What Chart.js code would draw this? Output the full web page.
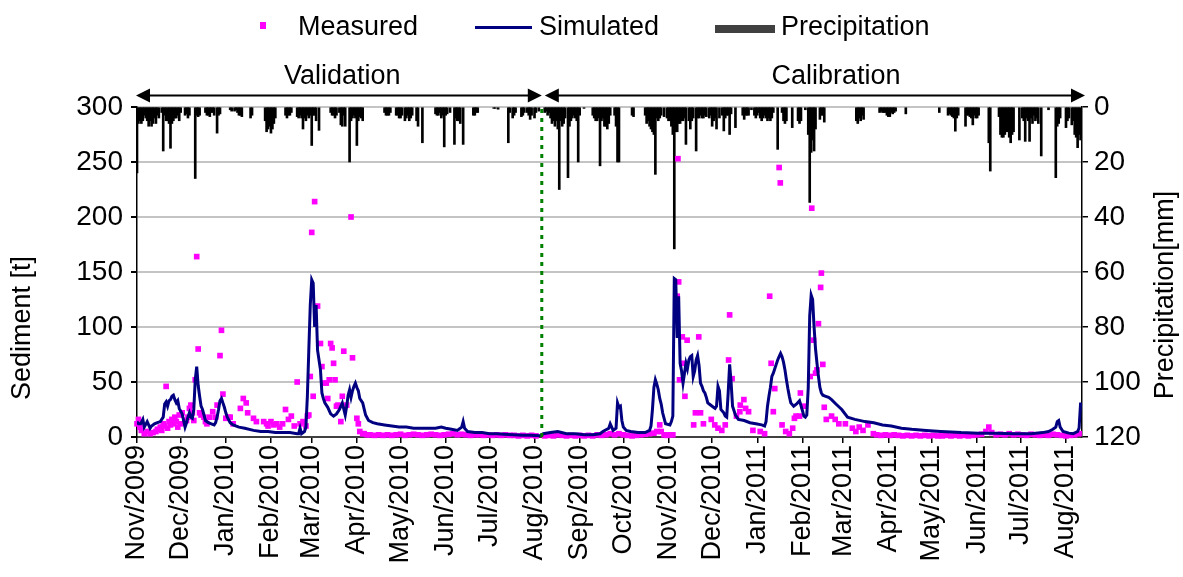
<!DOCTYPE html>
<html>
<head>
<meta charset="utf-8">
<script src="https://cdn.jsdelivr.net/npm/chart.js@4.4.0/dist/chart.umd.min.js"></script>
<style>
  html, body { margin: 0; padding: 0; background: #fff; overflow: hidden; }
  #wrap { width: 1183px; height: 577px; }
</style>
</head>
<body>
<div id="wrap"><canvas id="sediment-chart" width="1183" height="577"></canvas></div>
<script>
// days are counted from 1 Nov 2009
const tickDays = [0, 30, 61, 92, 120, 151, 181, 212, 242, 273, 304, 334, 365, 395, 426, 457, 485, 516, 546, 577, 607, 638];
const tickLabels = ['Nov/2009', 'Dec/2009', 'Jan/2010', 'Feb/2010', 'Mar/2010', 'Apr/2010', 'May/2010', 'Jun/2010',
  'Jul/2010', 'Aug/2010', 'Sep/2010', 'Oct/2010', 'Nov/2010', 'Dec/2010', 'Jan/2011', 'Feb/2011', 'Mar/2011',
  'Apr/2011', 'May/2011', 'Jun/2011', 'Jul/2011', 'Aug/2011'];
const lastDay = 649;
const splitDay = 278;
const periodNames = ['Validation', 'Calibration'];
const periodLabelDays = [141, 480];

const simulated = [
  [0, 14], [1, 12], [2.5, 12], [4, 16], [5, 9], [7, 14], [9, 8], [10, 10], [12, 12], [14, 13], [16, 14], [18, 18],
  [19, 30], [20, 32], [21, 28], [22, 33], [23, 34], [24, 37], [25, 38], [26, 34], [27, 31], [28, 33], [29, 26],
  [31, 21], [32, 15], [33, 9], [34, 13], [35, 18], [36, 22], [37, 18], [38, 17], [39, 25], [40, 52], [41, 64],
  [42, 47], [43, 37], [44, 28], [45, 25], [46, 20], [47, 15], [49, 13], [51, 12], [53, 11], [54, 13], [55, 18],
  [56, 25], [57, 33], [58, 35], [59, 31], [60, 27], [61, 22], [62, 18], [64, 13], [66, 11], [70, 9], [74, 8],
  [80, 6], [85, 5], [90, 5], [95, 4], [100, 4], [105, 4], [110, 3], [111, 3], [112, 8], [113, 3], [115, 5],
  [116, 9], [117, 37], [118, 79], [119, 120], [120, 143], [121, 140], [122, 100], [123, 120], [124, 79],
  [125, 70], [126, 61], [127, 40], [128, 35], [129, 31], [131, 27], [133, 21], [135, 19], [137, 21], [139, 25],
  [141, 31], [143, 20], [144, 28], [145, 38], [146, 43], [147, 36], [148, 42], [149, 46], [150, 49], [151, 45],
  [152, 42], [153, 35], [155, 31], [157, 20], [159, 15], [162, 13], [165, 12], [170, 11], [175, 10], [180, 9],
  [185, 9], [190, 8], [195, 8], [200, 8], [205, 8], [209, 9], [212, 8], [216, 7], [220, 6], [223, 9], [224, 14],
  [225, 8], [227, 5], [232, 4], [237, 4], [242, 3], [247, 3], [252, 2.5], [258, 2], [265, 1.5], [270, 1.5],
  [277, 1.2], [279, 3], [284, 4], [289, 5], [295, 3], [301, 3], [307, 2], [313, 2], [318, 3], [320, 5], [324, 8],
  [325, 12], [327, 6], [329, 8], [330, 31], [331, 27], [332, 28], [333, 15], [334, 9], [336, 6], [339, 5],
  [344, 4], [349, 4], [352, 6], [353, 10], [354, 25], [355, 45], [356, 52], [357, 48], [358, 43], [359, 35],
  [360, 30], [361, 22], [362, 17], [363, 12], [366, 11], [367, 14], [368, 19], [369, 144], [370, 143], [371, 90],
  [372, 128], [373, 67], [374, 60], [375, 49], [376, 58], [377, 67], [378, 62], [379, 70], [380, 73], [381, 74],
  [382, 55], [383, 60], [384, 70], [385, 74], [386, 65], [387, 49], [388, 46], [389, 42], [390, 40], [391, 36],
  [392, 31], [393, 30], [395, 28], [397, 26], [398, 28], [399, 46], [400, 42], [401, 25], [403, 22], [404, 19],
  [405, 18], [406, 40], [407, 66], [408, 50], [409, 28], [411, 20], [413, 16], [417, 15], [421, 13], [425, 12],
  [429, 11], [431, 10], [432, 14], [433, 28], [434, 37], [435, 45], [436, 55], [437, 58], [438, 62], [439, 66],
  [440, 70], [441, 73], [442, 76], [443, 73], [444, 68], [445, 61], [446, 52], [447, 44], [448, 37], [449, 31],
  [451, 28], [453, 30], [455, 33], [457, 24], [458, 19], [459, 18], [460, 20], [461, 45], [462, 110], [463, 129],
  [464, 125], [465, 100], [466, 80], [467, 67], [468, 55], [469, 45], [470, 40], [471, 38], [473, 37], [475, 36],
  [477, 34], [480, 30], [484, 25], [488, 18], [493, 16], [500, 14], [506, 13], [512, 11], [518, 10], [525, 8],
  [532, 7], [542, 6], [552, 5], [566, 4], [578, 3.5], [590, 3.5], [602, 3], [614, 3], [622, 4], [626, 5],
  [629, 7], [631, 9], [632, 14], [633, 15], [634, 9], [636, 5], [640, 3.5], [643, 3], [646, 5], [647, 8],
  [648, 30], [649, 30]
];

const measured = [
  [0, 12], [1, 16], [2, 9], [3, 6], [5, 3], [7, 5], [9, 3], [11, 4], [13, 5], [14, 7], [16, 9], [17, 6], [18, 12],
  [19, 10], [20, 46], [21, 8], [22, 14], [23, 11], [24, 16], [25, 12], [26, 18], [27, 14], [28, 9], [29, 20],
  [30, 12], [31, 22], [33, 15], [34, 15], [35, 18], [36, 26], [37, 29], [38, 22], [39, 15], [40, 52], [41, 164],
  [42, 80], [43, 22], [44, 20], [46, 18], [47, 14], [48, 12], [50, 18], [52, 23], [54, 18], [55, 29], [57, 74],
  [58, 97], [59, 39], [61, 17], [63, 18], [64, 18], [66, 12], [71, 26], [73, 35], [75, 31], [76, 22], [80, 17],
  [82, 14], [87, 14], [89, 12], [90, 10], [92, 14], [94, 11], [96, 12], [98, 9], [100, 12], [102, 25], [104, 16],
  [106, 19], [108, 10], [110, 50], [112, 12], [114, 14], [116, 10], [117, 19], [118, 20], [119, 55], [120, 186],
  [122, 214], [121, 37], [124, 119], [126, 85], [127, 64], [128, 49], [130, 49], [131, 35], [132, 52], [133, 85],
  [134, 81], [135, 67], [136, 52], [137, 28], [138, 29], [140, 14], [141, 37], [142, 78], [144, 29], [147, 200],
  [148, 72], [151, 17], [152, 12], [153, 5], [155, 3],
  [156, 3], [158, 2], [160, 2], [163, 1.5], [166, 2], [169, 1.5], [172, 2], [175, 1.5], [178, 2], [181, 2.5],
  [184, 1.5], [187, 2], [190, 2.5], [193, 2], [196, 1.5], [199, 2], [202, 2.5], [205, 2], [208, 1.5], [211, 2],
  [214, 2.5], [217, 3], [220, 2], [223, 2.5], [226, 2], [229, 1.5], [232, 2], [235, 2], [238, 1.5], [241, 2],
  [244, 1.5], [247, 2], [250, 1.5], [253, 2], [256, 1.5], [259, 1.5], [262, 1], [265, 1.5], [268, 1], [271, 1.5],
  [274, 1],
  [280, 1], [283, 1.5], [286, 1], [289, 2], [292, 1.5], [295, 1], [298, 1.5], [301, 1], [304, 1.5], [307, 1],
  [310, 1.5], [313, 1], [316, 2], [319, 1.5], [322, 2], [325, 3], [328, 2], [331, 3], [334, 2], [337, 1.5],
  [340, 1], [343, 1.5], [346, 2], [349, 2.5], [352, 3], [355, 3.5], [357, 5], [359, 11], [360, 5], [362, 2],
  [364, 1.5], [366, 2], [368, 2],
  [371, 128], [371.5, 253], [372, 141], [372.6, 52], [374.5, 91], [375.6, 67], [376.3, 37], [377.8, 88],
  [382.3, 11], [383.5, 22], [385.8, 91], [387, 22], [389, 12], [394.4, 16], [396.8, 11], [399, 8], [401.6, 6],
  [404, 11], [406.3, 70], [407, 111], [408.7, 53], [411.7, 19], [414, 23], [414.3, 29], [416.8, 34], [418, 26],
  [420, 23], [423, 6], [428, 5], [431, 3], [434.5, 128], [435.5, 67], [437, 23], [438, 44], [441, 245],
  [441.8, 231], [443, 11], [445.5, 5], [448, 3], [450.3, 8], [451.5, 17], [452.6, 19], [455, 19], [455.6, 40],
  [457.5, 28], [462.3, 55], [463.4, 208], [464.6, 88], [466, 58], [467, 61], [468, 103], [469.5, 136], [470, 149],
  [471, 66], [472, 27], [473.4, 16], [477, 19], [479.5, 16], [482, 12], [486.5, 12], [491.3, 8], [493.7, 5],
  [496, 9], [498.6, 6], [502, 11], [505.7, 3],
  [508, 2], [511, 1.5], [514, 2], [517, 1.5], [520, 2], [523, 1.5], [526, 1], [529, 1.5], [532, 1], [535, 1.5],
  [538, 1], [541, 1.5], [544, 1], [547, 1.5], [550, 1], [553, 1], [556, 1.5], [559, 1], [562, 1.5], [565, 1],
  [568, 1.5], [571, 1], [574, 1.5], [577, 2], [580, 2.5], [583, 5], [585, 9], [587, 4], [590, 2], [593, 2.5],
  [596, 2], [599, 3], [602, 2], [605, 2.5], [608, 2], [611, 1.5], [614, 2.5], [617, 2], [620, 1.5], [623, 2],
  [626, 1.5], [629, 2.5], [632, 2], [635, 1.5], [638, 1], [641, 1.5], [644, 2], [647, 3]
];

const precipitation = [
  [0, 24], [1, 6], [2, 5], [3, 6], [4, 5], [5, 3], [6, 4], [7, 5], [8, 7], [9, 5], [10, 7], [11, 6], [12, 4],
  [13, 6], [14, 3], [15, 4], [17, 2], [18, 16], [19, 3], [20, 5], [21, 5], [22, 6], [23, 15], [24, 6], [25, 5],
  [26, 4], [27, 4], [28, 3], [29, 5], [30, 2], [33, 3], [34, 2.5], [35, 4], [36, 3], [40, 26], [41, 3], [42, 3.5],
  [43, 3], [47, 2], [48, 3], [49, 3], [50, 3.5], [51, 2], [52, 2], [53, 3], [55, 9.5], [56, 3], [57, 2.5], [64, 1],
  [65, 1.5], [67, 1.5], [68, 1], [69, 2], [70, 3], [71, 3], [72, 3.5], [78, 4], [79, 3], [88, 5], [89, 9], [90, 8],
  [91, 7], [92, 9.5], [93, 8], [94, 6], [95, 4], [102, 3], [103, 4], [104, 3], [105, 3], [106, 2], [110, 3.5],
  [111, 4], [112, 3], [113, 4], [114, 8], [115, 4], [116, 5], [117, 3], [118, 4], [119, 3], [120, 14], [121, 3],
  [122, 3], [123, 5], [125, 8.5], [133, 2], [134, 3], [135, 3], [136, 4], [137, 3], [139, 2], [140, 6.5], [141, 7],
  [142, 3], [143, 7], [146, 20], [147, 5], [148, 4], [149, 3], [150, 4], [151, 14], [152, 5], [153, 3.5], [154, 4],
  [155, 5], [170, 2], [171, 3], [172, 3], [173, 3], [174, 2], [178, 3], [179, 3], [180, 4], [181, 4], [182, 3],
  [184, 5], [185, 4], [186, 3], [187, 5], [188, 4], [189, 3], [192, 5], [193, 7], [196, 13], [205, 2.5], [206, 3],
  [207, 3], [208, 2], [209, 4], [210, 3], [211, 14.5], [212, 3], [213, 2.5], [215, 2], [218, 13.6], [219, 4],
  [220, 5], [221, 5], [222, 6], [224, 13.6], [231, 3], [232, 3], [233, 2], [234, 2], [245, 0.5], [246, 0.5],
  [248, 0.8], [255, 13], [256, 2], [258, 4], [259, 3], [260, 2], [264, 3.5], [265, 3], [266, 2], [268, 2], [269, 3],
  [270, 4.5], [271, 3], [273, 4], [274, 2], [276, 1.5],
  [280, 2], [281, 1.5], [282, 3], [283, 2], [284, 4], [285, 6], [286, 5], [287, 7], [288, 5], [289, 8], [290, 30],
  [291, 5], [292, 7], [293, 6], [294, 4], [296, 25.7], [297, 7], [298, 5], [299, 4], [300, 3], [301, 4], [302, 5],
  [303, 20], [304, 3], [307, 0.5], [313, 3], [314, 4], [315, 5], [316, 5], [317, 4], [318, 21.4], [319, 5],
  [320, 4], [321, 7], [322, 7], [323, 8], [324, 6], [325, 3], [328, 3], [329, 7], [330, 20], [331, 20], [340, 3],
  [341, 3.5], [349, 3], [350, 6], [351, 5], [352, 7], [353, 8], [354, 9], [355, 10], [356, 24.5], [357, 4],
  [358, 5], [359, 4], [360, 3], [362, 3.5], [364, 4], [365, 5], [366, 5], [367, 7], [368, 10], [369, 51.6],
  [370, 9], [371, 9], [372, 6], [373, 6], [374, 5], [375, 5], [376, 4], [377, 13.6], [379, 5], [380, 8], [381, 5],
  [382, 4], [384, 16], [385, 4], [386, 4], [387, 3], [388, 4], [389, 4], [390, 3], [391, 3.5], [393, 4], [394, 3],
  [395, 7], [396, 5], [397, 4], [398, 8], [400, 4], [402, 3], [403, 8.7], [404, 4], [405, 3], [406, 3], [407, 10],
  [408, 2.5], [411, 7.5], [416, 3], [417, 4.5], [418, 3], [419, 3], [420, 3], [422, 1], [424, 3], [425, 4],
  [426, 3], [427, 2], [428, 4], [429, 5], [430, 4], [431, 3], [432, 4], [433, 5], [434, 4], [435, 5], [436, 4],
  [437, 2], [440, 15.4], [443, 2], [444, 5], [445, 6], [446, 5], [450, 7.5], [454, 5], [455, 6], [456, 5],
  [459, 1], [461, 10], [462, 34.7], [463, 16.5], [464, 12], [465, 16], [466, 8], [469, 4.5], [470, 3], [471, 3],
  [472, 5.5], [494, 5], [495, 6], [496, 4], [497, 5], [498, 3], [499, 4.5], [510, 2], [511, 1.5], [512, 2],
  [513, 2], [514, 2], [515, 3], [516, 3.5], [517, 3.5], [518, 2], [519, 2.5], [520, 2], [521, 1.5], [528, 2.5],
  [551, 2], [557, 3], [558, 2.5], [559, 3], [560, 3.5], [561, 4], [562, 8.8], [563, 4], [564, 3], [569, 7],
  [570, 3], [571, 3], [572, 3.5], [573, 4], [574, 6.5], [575, 3], [576, 4], [577, 4], [578, 3], [585, 13],
  [586, 23.3], [592, 3.5], [593, 10], [594, 11], [595, 11], [596, 10], [597, 9], [598, 9], [599, 11], [600, 13],
  [601, 10], [602, 9], [606, 12], [608, 4], [609, 5], [610, 12.5], [611, 4], [612, 5], [613, 12.5], [614, 4],
  [615, 6], [616, 3], [617, 5], [618, 4], [619, 6], [621, 17.8], [626, 1], [631, 25.7], [632, 7], [633, 6],
  [634, 4], [638, 7.5], [639, 5], [640, 4], [642, 6.5], [643, 5], [644, 10], [645, 11], [646, 14.8], [647, 10],
  [648, 12]
];

document.addEventListener("DOMContentLoaded", main);

function main() {
  Chart.defaults.font.family = "'Liberation Sans', Arial, sans-serif";
  Chart.defaults.font.size = 28;
  Chart.defaults.color = '#000';
  renderChart();
}

function toPoints(rows) {
  return rows.map(r => ({ x: r[0], y: r[1] }));
}

function drawArrow(ctx, x1, x2, y) {
  const head = 14;
  ctx.beginPath();
  ctx.moveTo(x1 + head - 2, y);
  ctx.lineTo(x2 - head + 2, y);
  ctx.stroke();
  ctx.beginPath();
  ctx.moveTo(x1, y);
  ctx.lineTo(x1 + head, y - 7);
  ctx.lineTo(x1 + head, y + 7);
  ctx.closePath();
  ctx.fill();
  ctx.beginPath();
  ctx.moveTo(x2, y);
  ctx.lineTo(x2 - head, y - 7);
  ctx.lineTo(x2 - head, y + 7);
  ctx.closePath();
  ctx.fill();
}

const overlay = {
  id: 'overlay',
  afterDraw(chart) {
    const ctx = chart.ctx;
    const x = chart.scales.x;
    ctx.save();
    ctx.font = "27px 'Liberation Sans', Arial, sans-serif";
    ctx.fillStyle = '#000';
    ctx.textBaseline = 'middle';
    ctx.textAlign = 'left';

    // legend
    ctx.fillStyle = '#ff00ff';
    ctx.fillRect(260, 22, 6, 7);
    ctx.strokeStyle = '#000080';
    ctx.lineWidth = 3;
    ctx.beginPath();
    ctx.moveTo(475, 27.5);
    ctx.lineTo(532, 27.5);
    ctx.stroke();
    ctx.fillStyle = '#404040';
    ctx.fillRect(715, 25, 60, 8);
    ctx.fillStyle = '#000';
    ctx.fillText('Measured', 298, 28);
    ctx.fillText('Simulated', 539, 28);
    ctx.fillText('Precipitation', 781, 28);

    // period arrows
    const left = x.getPixelForValue(0);
    const mid = x.getPixelForValue(splitDay);
    const right = x.getPixelForValue(lastDay);
    ctx.strokeStyle = '#000';
    ctx.lineWidth = 2;
    drawArrow(ctx, left - 1, mid, 95.5);
    drawArrow(ctx, mid + 3, right + 3, 95.5);
    ctx.textAlign = 'center';
    ctx.fillText(periodNames[0], x.getPixelForValue(periodLabelDays[0]), 77);
    ctx.fillText(periodNames[1], x.getPixelForValue(periodLabelDays[1]), 77);

    // axis titles
    ctx.save();
    ctx.translate(23, 328);
    ctx.rotate(-Math.PI / 2);
    ctx.fillText('Sediment [t]', 0, 0);
    ctx.restore();
    ctx.save();
    ctx.translate(1166, 295);
    ctx.rotate(-Math.PI / 2);
    ctx.fillText('Precipitation[mm]', 0, 0);
    ctx.restore();
    ctx.restore();
  }
};

function renderChart() {
  const ctx = document.querySelector('#sediment-chart').getContext('2d');
  new Chart(ctx, {
    type: 'bar',
    data: {
      datasets: [
        {
          type: 'line',
          label: 'Split',
          data: [{ x: splitDay, y: 0 }, { x: splitDay, y: 300 }],
          borderColor: '#008000',
          borderWidth: 3,
          borderDash: [4, 5],
          pointRadius: 0,
          yAxisID: 'y',
          order: 0
        },
        {
          type: 'line',
          label: 'Simulated',
          data: toPoints(simulated),
          borderColor: '#000080',
          borderWidth: 3,
          pointRadius: 0,
          tension: 0,
          yAxisID: 'y',
          order: 1
        },
        {
          type: 'line',
          label: 'Measured',
          data: toPoints(measured),
          showLine: false,
          pointStyle: 'rect',
          pointRadius: 4,
          pointBorderWidth: 0,
          pointBackgroundColor: '#ff00ff',
          pointBorderColor: '#ff00ff',
          yAxisID: 'y',
          clip: false,
          order: 2
        },
        {
          type: 'bar',
          label: 'Precipitation',
          data: toPoints(precipitation),
          backgroundColor: '#000',
          barThickness: 2,
          yAxisID: 'y2',
          order: 3
        }
      ]
    },
    options: {
      responsive: false,
      devicePixelRatio: 1,
      animation: false,
      layout: { padding: { top: 107, left: 0, right: 0, bottom: 0 } },
      plugins: {
        legend: { display: false },
        tooltip: { enabled: false }
      },
      scales: {
        x: {
          type: 'linear',
          min: 0,
          max: lastDay,
          offset: false,
          afterBuildTicks: (scale) => { scale.ticks = tickDays.map(v => ({ value: v })); },
          afterFit: (scale) => { scale.height = 140; },
          ticks: {
            autoSkip: false,
            maxRotation: 90,
            minRotation: 90,
            padding: 2,
            font: { size: 27 },
            callback: (v) => tickLabels[tickDays.indexOf(v)]
          },
          grid: { offset: false, drawOnChartArea: false, tickLength: 6, color: '#000', lineWidth: 1.5 },
          border: { color: '#404040', width: 2 }
        },
        y: {
          position: 'left',
          min: 0,
          max: 300,
          afterFit: (scale) => { scale.width = 137; },
          ticks: { stepSize: 50, padding: 8 },
          grid: { color: '#c4c4c4', lineWidth: 2, tickLength: 6, tickColor: '#000' },
          border: { color: '#000', width: 1.5 }
        },
        y2: {
          position: 'right',
          reverse: true,
          min: 0,
          max: 120,
          afterFit: (scale) => { scale.width = 101; },
          ticks: { stepSize: 20, padding: 6 },
          grid: { drawOnChartArea: false, tickLength: 6, color: '#000', lineWidth: 1.5 },
          border: { color: '#000', width: 1.5 }
        }
      }
    },
    plugins: [overlay]
  });
}
</script>
</body>
</html>
